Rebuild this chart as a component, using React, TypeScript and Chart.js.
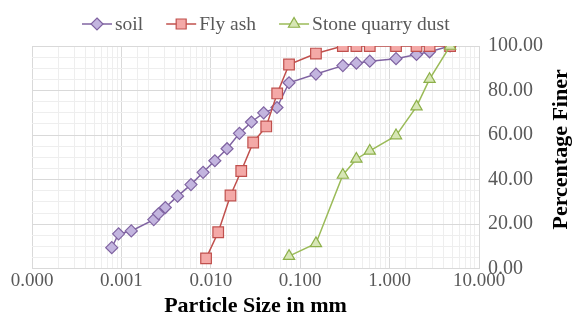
import { useEffect, useRef } from 'react';
import { Chart, registerables } from 'chart.js';

Chart.register(...registerables);

const seriesNames = ['soil', 'Fly ash', 'Stone quarry dust'];

const soilSize = [0.00078, 0.00093, 0.00129, 0.0023, 0.0026, 0.0031, 0.00425, 0.006, 0.0082, 0.0111, 0.0152, 0.0209, 0.0285, 0.039, 0.055, 0.075, 0.15, 0.3, 0.425, 0.6, 1.18, 2.0, 2.8, 4.75];
const soilFiner = [9.5, 15.7, 17.0, 22.1, 24.7, 27.5, 32.6, 37.8, 43.3, 48.5, 53.9, 60.8, 65.9, 70.0, 72.4, 83.5, 87.4, 91.2, 92.3, 93.2, 94.3, 96.2, 97.4, 100];

const flySize = [0.00885, 0.0121, 0.0166, 0.0219, 0.0298, 0.0417, 0.0553, 0.075, 0.15, 0.3, 0.425, 0.6, 1.18, 2.0, 2.8, 4.75];
const flyFiner = [4.7, 16.4, 32.9, 43.9, 56.7, 63.9, 78.7, 91.7, 96.6, 100, 100, 100, 100, 100, 100, 100];

const stoneSize = [0.075, 0.15, 0.3, 0.425, 0.6, 1.18, 2.0, 2.8, 4.75];
const stoneFiner = [5.7, 11.4, 42.1, 49.3, 52.9, 59.8, 72.8, 85.1, 100];

const xTitle = 'Particle Size in mm';
const yTitle = 'Percentage Finer';

const FONT = '"Liberation Serif", "Times New Roman", serif';
const TICK_COLOR = '#595959';

const styles = [
  { line: '#8064A2', fill: '#C3B5DF', border: '#8064A2', shape: 'diamond' },
  { line: '#C0504D', fill: '#F4A9A7', border: '#C0504D', shape: 'square' },
  { line: '#9BBB59', fill: '#D7E6B5', border: '#8DB04A', shape: 'triangle' },
];

function drawMarker(ctx: CanvasRenderingContext2D, shape: string, x: number, y: number, fill: string, border: string) {
  ctx.beginPath();
  if (shape === 'diamond') {
    const r = 6;
    ctx.moveTo(x, y - r); ctx.lineTo(x + r, y); ctx.lineTo(x, y + r); ctx.lineTo(x - r, y); ctx.closePath();
  } else if (shape === 'square') {
    const h = 5;
    ctx.rect(x - h, y - h, 2 * h, 2 * h);
  } else {
    const r = 6.5;
    ctx.moveTo(x, y - r);
    ctx.lineTo(x + r * Math.sin(2 * Math.PI / 3), y - r * Math.cos(2 * Math.PI / 3));
    ctx.lineTo(x + r * Math.sin(4 * Math.PI / 3), y - r * Math.cos(4 * Math.PI / 3));
    ctx.closePath();
  }
  ctx.fillStyle = fill; ctx.fill();
  ctx.strokeStyle = border; ctx.lineWidth = 1.2; ctx.stroke();
}

export default function App() {
  const ref = useRef<HTMLCanvasElement>(null);

  useEffect(() => {
    document.body.style.margin = '0';
    const isDecade = (v: number) => Math.abs(Math.log10(v) - Math.round(Math.log10(v))) < 1e-6;

    const legendPlugin = {
      id: 'customLegend',
      afterDraw(chart: any) {
        const ctx: CanvasRenderingContext2D = chart.ctx;
        ctx.save();
        ctx.font = `19.5px ${FONT}`;
        ctx.textBaseline = 'middle';
        ctx.textAlign = 'left';
        let x = 82;
        const y = 24;
        seriesNames.forEach((name, i) => {
          const s = styles[i];
          ctx.strokeStyle = s.line; ctx.lineWidth = 1.5;
          ctx.beginPath(); ctx.moveTo(x, y); ctx.lineTo(x + 30, y); ctx.stroke();
          drawMarker(ctx, s.shape, x + 15, y, s.fill, s.border);
          ctx.fillStyle = TICK_COLOR;
          ctx.fillText(name, x + 33, y + 1);
          x += 33 + ctx.measureText(name).width + 23;
        });
        ctx.restore();
      },
    };

    const yTitlePlugin = {
      id: 'yTitle',
      afterDraw(chart: any) {
        const ctx: CanvasRenderingContext2D = chart.ctx;
        const area = chart.chartArea;
        ctx.save();
        ctx.font = `bold 22px ${FONT}`;
        ctx.fillStyle = '#000';
        ctx.textAlign = 'center';
        ctx.textBaseline = 'middle';
        ctx.translate(561, (area.top + area.bottom) / 2 - 8);
        ctx.rotate(-Math.PI / 2);
        ctx.fillText(yTitle, 0, 0);
        ctx.restore();
      },
    };

    const mk = (xs: number[], ys: number[], i: number, order: number) => ({
      label: seriesNames[i],
      data: xs.map((x, k) => ({ x, y: ys[k] })),
      borderColor: styles[i].line,
      borderWidth: 1.5,
      backgroundColor: styles[i].fill,
      pointBackgroundColor: styles[i].fill,
      pointBorderColor: styles[i].border,
      pointBorderWidth: 1.2,
      pointStyle: styles[i].shape === 'diamond' ? 'rectRot' : styles[i].shape === 'square' ? 'rect' : 'triangle',
      pointRadius: styles[i].shape === 'diamond' ? 6 : styles[i].shape === 'square' ? 7.5 : 6.5,
      tension: 0,
      fill: false,
      order,
    });

    const chart = new Chart(ref.current!, {
      type: 'line',
      data: {
        datasets: [
          mk(soilSize, soilFiner, 0, 2),
          mk(flySize, flyFiner, 1, 1),
          mk(stoneSize, stoneFiner, 2, 0),
        ] as any,
      },
      options: {
        responsive: false,
        animation: false,
        layout: { padding: { left: 32, top: 46, right: 22, bottom: 0 } },
        plugins: { legend: { display: false }, tooltip: { enabled: false } },
        scales: {
          x: {
            type: 'logarithmic',
            min: 0.0001,
            max: 10,
            border: { display: true, color: '#d9d9d9' },
            grid: {
              drawTicks: false,
              color: (c: any) => (isDecade(c.tick.value) ? '#d9d9d9' : '#eeeeee'),
            },
            ticks: {
              autoSkip: false,
              maxRotation: 0,
              padding: 1,
              color: TICK_COLOR,
              font: { family: FONT, size: 19 },
              callback: (v: any) => (isDecade(Number(v)) ? Number(v).toFixed(3) : ''),
            },
            title: {
              display: true,
              text: xTitle,
              color: '#000',
              font: { family: FONT, size: 22, weight: 'bold' },
              padding: { top: 0, bottom: 0 },
            },
          },
          y: {
            type: 'linear',
            position: 'right',
            min: 0,
            max: 100,
            border: { display: true, color: '#d9d9d9' },
            grid: {
              drawTicks: false,
              color: (c: any) => (c.tick.value % 20 === 0 ? '#d9d9d9' : '#eeeeee'),
            },
            ticks: {
              stepSize: 5,
              autoSkip: false,
              padding: 9,
              color: TICK_COLOR,
              font: { family: FONT, size: 20 },
              callback: (v: any) => (Number(v) % 20 === 0 ? Number(v).toFixed(2) : ''),
            },
          },
        },
      } as any,
      plugins: [legendPlugin, yTitlePlugin],
    });
    return () => chart.destroy();
  }, []);

  return <canvas ref={ref} width={574} height={320} style={{ display: 'block' }} />;
}
